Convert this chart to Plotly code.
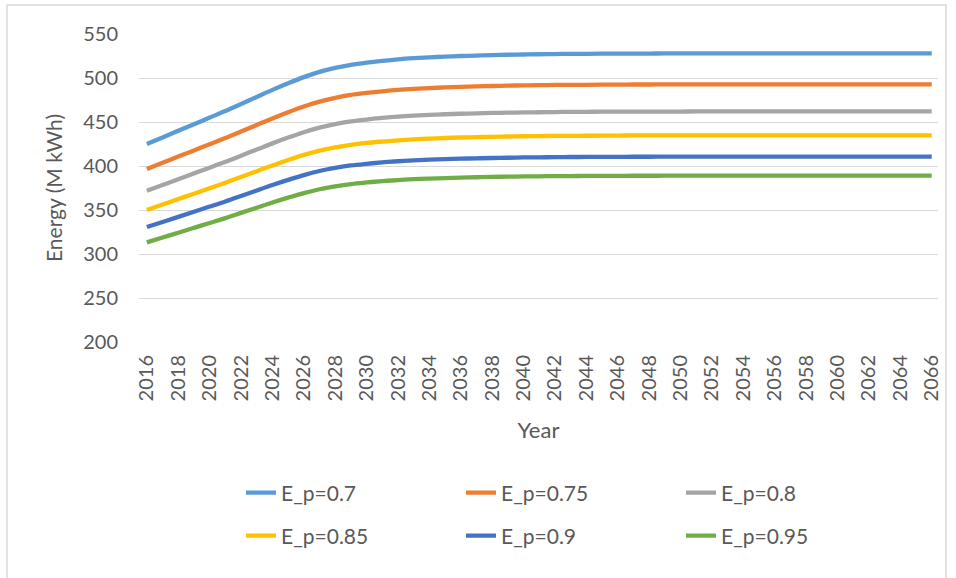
import plotly.graph_objects as go

years = list(range(2016, 2067))
tick_years = list(range(2016, 2067, 2))

series_names = ["E_p=0.7", "E_p=0.75", "E_p=0.8", "E_p=0.85", "E_p=0.9", "E_p=0.95"]

ep_070 = [425, 432.5, 440, 447.5, 455, 462.5, 470.5, 478.5, 486.5, 494,
          501, 507, 511.5, 515, 517.5, 519.5, 521.2, 522.5, 523.5, 524.3,
          525, 525.5, 526, 526.4, 526.7, 527, 527.2, 527.4, 527.5, 527.6,
          527.7, 527.8, 527.8, 527.9, 527.9, 528, 528, 528, 528, 528,
          528, 528, 528, 528, 528, 528, 528, 528, 528, 528, 528]
ep_075 = [396.7, 403.7, 410.7, 417.7, 424.7, 431.7, 439.1, 446.6, 454.1, 461.1,
          467.6, 473.2, 477.4, 480.7, 483.0, 484.9, 486.5, 487.7, 488.6, 489.3,
          490.0, 490.5, 490.9, 491.3, 491.6, 491.9, 492.1, 492.2, 492.3, 492.4,
          492.5, 492.6, 492.6, 492.7, 492.7, 492.8, 492.8, 492.8, 492.8, 492.8,
          492.8, 492.8, 492.8, 492.8, 492.8, 492.8, 492.8, 492.8, 492.8, 492.8, 492.8]
ep_080 = [371.9, 378.4, 385.0, 391.6, 398.1, 404.7, 411.7, 418.7, 425.7, 432.3,
          438.4, 443.6, 447.6, 450.6, 452.8, 454.6, 456.1, 457.2, 458.1, 458.8,
          459.4, 459.8, 460.3, 460.6, 460.9, 461.1, 461.3, 461.5, 461.6, 461.7,
          461.7, 461.8, 461.8, 461.9, 461.9, 462, 462, 462, 462, 462,
          462, 462, 462, 462, 462, 462, 462, 462, 462, 462, 462]
ep_085 = [350.0, 356.2, 362.4, 368.5, 374.7, 380.9, 387.5, 394.1, 400.6, 406.8,
          412.6, 417.5, 421.2, 424.1, 426.2, 427.8, 429.2, 430.3, 431.1, 431.8,
          432.4, 432.8, 433.2, 433.5, 433.8, 434.0, 434.2, 434.3, 434.4, 434.5,
          434.6, 434.7, 434.7, 434.7, 434.7, 434.8, 434.8, 434.8, 434.8, 434.8,
          434.8, 434.8, 434.8, 434.8, 434.8, 434.8, 434.8, 434.8, 434.8, 434.8, 434.8]
ep_090 = [330.6, 336.4, 342.2, 348.1, 353.9, 359.7, 365.9, 372.2, 378.4, 384.2,
          389.7, 394.3, 397.8, 400.6, 402.5, 404.1, 405.4, 406.4, 407.2, 407.8,
          408.3, 408.7, 409.1, 409.4, 409.7, 409.9, 410.0, 410.2, 410.3, 410.4,
          410.4, 410.5, 410.5, 410.6, 410.6, 410.7, 410.7, 410.7, 410.7, 410.7,
          410.7, 410.7, 410.7, 410.7, 410.7, 410.7, 410.7, 410.7, 410.7, 410.7, 410.7]
ep_095 = [313.2, 318.7, 324.2, 329.7, 335.3, 340.8, 346.7, 352.6, 358.5, 364.0,
          369.2, 373.6, 376.9, 379.5, 381.3, 382.8, 384.0, 385.0, 385.7, 386.3,
          386.8, 387.2, 387.6, 387.9, 388.1, 388.3, 388.5, 388.6, 388.7, 388.8,
          388.8, 388.9, 388.9, 389.0, 389.0, 389.1, 389.1, 389.1, 389.1, 389.1,
          389.1, 389.1, 389.1, 389.1, 389.1, 389.1, 389.1, 389.1, 389.1, 389.1, 389.1]

all_series = [ep_070, ep_075, ep_080, ep_085, ep_090, ep_095]
colors = ["#5B9BD5", "#ED7D31", "#A5A5A5", "#FFC000", "#4472C4", "#70AD47"]

FONT = "Lato"
TXT = "#595959"

fig = go.Figure()
for i, (name, vals, col) in enumerate(zip(series_names, all_series, colors)):
    fig.add_trace(go.Scatter(
        x=years, y=vals, name=name, mode="lines",
        line=dict(color=col, width=4.3, shape="spline", smoothing=1),
        legend="legend" if i < 3 else "legend2",
    ))

W, H = 956, 578
ml, mr, mt, mb = 139, 18, 34, 236
pw = W - ml - mr
ph = H - mt - mb

def px_x(x):
    return (x - ml) / pw

def px_y(y):
    return (H - mb - y) / ph

legend_common = dict(
    orientation="h", xanchor="left", yanchor="middle",
    entrywidth=175, entrywidthmode="pixels",
    font=dict(family=FONT, size=21, color=TXT),
    bgcolor="rgba(0,0,0,0)", borderwidth=0,
)

fig.update_layout(
    width=W, height=H,
    margin=dict(l=ml, r=mr, t=mt, b=mb, autoexpand=False),
    paper_bgcolor="white", plot_bgcolor="white",
    font=dict(family=FONT, color=TXT),
    legend=dict(x=px_x(241), y=px_y(493), **legend_common),
    legend2=dict(x=px_x(241), y=px_y(536), **legend_common),
    xaxis=dict(
        range=[2015.5, 2066.4],
        tickmode="array", tickvals=tick_years, ticktext=[str(t) for t in tick_years],
        tickangle=-90, tickfont=dict(family=FONT, size=20, color=TXT),
        showgrid=False, zeroline=False, showline=False, ticks="", ticklabelstandoff=8,
        title=dict(text="Year", font=dict(family=FONT, size=22, color=TXT), standoff=22),
    ),
    yaxis=dict(
        range=[200, 550], tickmode="array", tickvals=list(range(200, 551, 50)),
        tickfont=dict(family=FONT, size=20, color=TXT),
        showgrid=True, gridcolor="#D9D9D9", gridwidth=1.3,
        zeroline=False, showline=False, ticks="", ticklabelstandoff=20,
        title=dict(text="Energy (M kWh)", font=dict(family=FONT, size=21, color=TXT), standoff=14),
    ),
    shapes=[dict(type="rect", xref="paper", yref="paper",
                 x0=px_x(7), x1=px_x(946), y0=px_y(590), y1=px_y(5),
                 line=dict(color="#D9D9D9", width=1.5), fillcolor="rgba(0,0,0,0)", layer="below")],
    showlegend=True,
)

fig.write_html("out.html", config={"displayModeBar": False},
               post_script="document.body.style.margin='0';")
